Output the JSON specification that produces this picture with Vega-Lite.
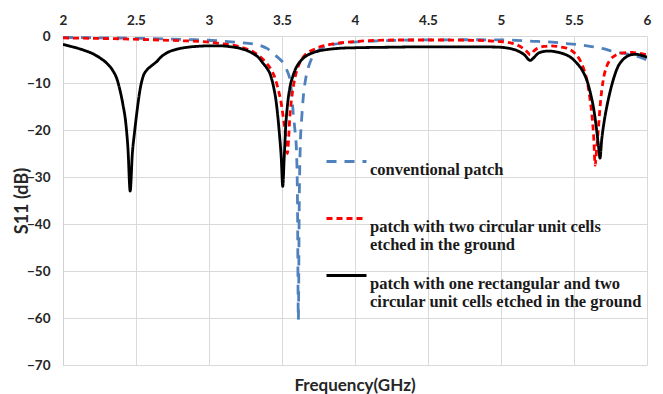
{
  "$schema": "https://vega.github.io/schema/vega-lite/v6.json",
  "width": 584,
  "height": 329,
  "autosize": "none",
  "padding": {"left": 63, "top": 36, "right": 16, "bottom": 29},
  "background": "white",
  "title": {
    "text": "Frequency(GHz)",
    "orient": "bottom",
    "anchor": "middle",
    "font": "Lato",
    "fontSize": 17,
    "fontWeight": "bold",
    "color": "#262626",
    "offset": 6
  },
  "config": {
    "view": {"stroke": null},
    "axis": {
      "labelFont": "Lato",
      "labelFontWeight": "bold",
      "labelFontSize": 13.5,
      "labelColor": "#262626",
      "gridColor": "#d9d9d9",
      "gridWidth": 1,
      "domainColor": "#d0d0d0",
      "ticks": false,
      "titleFont": "Lato",
      "titleFontWeight": "bold",
      "titleFontSize": 18,
      "titleColor": "#262626"
    },
    "legend": {
      "labelFont": "Liberation Serif",
      "labelFontWeight": "bold",
      "labelFontSize": 16.5,
      "labelColor": "#1a1a1a",
      "labelLimit": 400
    }
  },
  "data": {
    "values": [
      {"series": "conventional patch", "f": 2.0, "s11": -0.3},
      {"series": "conventional patch", "f": 2.3, "s11": -0.4},
      {"series": "conventional patch", "f": 2.6, "s11": -0.55},
      {"series": "conventional patch", "f": 2.9, "s11": -0.8},
      {"series": "conventional patch", "f": 3.1, "s11": -1.1},
      {"series": "conventional patch", "f": 3.21, "s11": -1.4},
      {"series": "conventional patch", "f": 3.3, "s11": -1.7},
      {"series": "conventional patch", "f": 3.35, "s11": -2.0},
      {"series": "conventional patch", "f": 3.4, "s11": -2.7},
      {"series": "conventional patch", "f": 3.44, "s11": -3.7},
      {"series": "conventional patch", "f": 3.48, "s11": -4.8},
      {"series": "conventional patch", "f": 3.51, "s11": -5.8},
      {"series": "conventional patch", "f": 3.535, "s11": -7.4},
      {"series": "conventional patch", "f": 3.555, "s11": -9.4},
      {"series": "conventional patch", "f": 3.567, "s11": -12.5},
      {"series": "conventional patch", "f": 3.577, "s11": -16.5},
      {"series": "conventional patch", "f": 3.59, "s11": -20.5},
      {"series": "conventional patch", "f": 3.6, "s11": -25},
      {"series": "conventional patch", "f": 3.606, "s11": -35},
      {"series": "conventional patch", "f": 3.612, "s11": -60.4},
      {"series": "conventional patch", "f": 3.618, "s11": -36},
      {"series": "conventional patch", "f": 3.625, "s11": -23.5},
      {"series": "conventional patch", "f": 3.635, "s11": -17.5},
      {"series": "conventional patch", "f": 3.646, "s11": -12.9},
      {"series": "conventional patch", "f": 3.66, "s11": -9.5},
      {"series": "conventional patch", "f": 3.67, "s11": -7.9},
      {"series": "conventional patch", "f": 3.69, "s11": -5.8},
      {"series": "conventional patch", "f": 3.71, "s11": -4.4},
      {"series": "conventional patch", "f": 3.74, "s11": -3.3},
      {"series": "conventional patch", "f": 3.78, "s11": -2.4},
      {"series": "conventional patch", "f": 3.85, "s11": -1.8},
      {"series": "conventional patch", "f": 3.99, "s11": -1.3},
      {"series": "conventional patch", "f": 4.2, "s11": -1.0},
      {"series": "conventional patch", "f": 4.4, "s11": -0.85},
      {"series": "conventional patch", "f": 4.8, "s11": -0.8},
      {"series": "conventional patch", "f": 5.04, "s11": -0.85},
      {"series": "conventional patch", "f": 5.2, "s11": -1.1},
      {"series": "conventional patch", "f": 5.35, "s11": -1.3},
      {"series": "conventional patch", "f": 5.45, "s11": -1.6},
      {"series": "conventional patch", "f": 5.54, "s11": -1.9},
      {"series": "conventional patch", "f": 5.61, "s11": -2.2},
      {"series": "conventional patch", "f": 5.7, "s11": -2.7},
      {"series": "conventional patch", "f": 5.77, "s11": -3.3},
      {"series": "conventional patch", "f": 5.86, "s11": -3.8},
      {"series": "conventional patch", "f": 5.93, "s11": -4.3},
      {"series": "conventional patch", "f": 6.0, "s11": -5.1},

      {"series": "patch with two circular unit cells etched in the ground", "f": 2.0, "s11": -0.4},
      {"series": "patch with two circular unit cells etched in the ground", "f": 2.2, "s11": -0.5},
      {"series": "patch with two circular unit cells etched in the ground", "f": 2.4, "s11": -0.6},
      {"series": "patch with two circular unit cells etched in the ground", "f": 2.6, "s11": -0.8},
      {"series": "patch with two circular unit cells etched in the ground", "f": 2.8, "s11": -1.0},
      {"series": "patch with two circular unit cells etched in the ground", "f": 3.0, "s11": -1.3},
      {"series": "patch with two circular unit cells etched in the ground", "f": 3.1, "s11": -1.7},
      {"series": "patch with two circular unit cells etched in the ground", "f": 3.2, "s11": -2.2},
      {"series": "patch with two circular unit cells etched in the ground", "f": 3.27, "s11": -2.9},
      {"series": "patch with two circular unit cells etched in the ground", "f": 3.32, "s11": -3.7},
      {"series": "patch with two circular unit cells etched in the ground", "f": 3.36, "s11": -4.7},
      {"series": "patch with two circular unit cells etched in the ground", "f": 3.4, "s11": -6.0},
      {"series": "patch with two circular unit cells etched in the ground", "f": 3.43, "s11": -7.4},
      {"series": "patch with two circular unit cells etched in the ground", "f": 3.455, "s11": -9.2},
      {"series": "patch with two circular unit cells etched in the ground", "f": 3.475, "s11": -11.5},
      {"series": "patch with two circular unit cells etched in the ground", "f": 3.49, "s11": -13.5},
      {"series": "patch with two circular unit cells etched in the ground", "f": 3.505, "s11": -16.5},
      {"series": "patch with two circular unit cells etched in the ground", "f": 3.52, "s11": -20},
      {"series": "patch with two circular unit cells etched in the ground", "f": 3.53, "s11": -23},
      {"series": "patch with two circular unit cells etched in the ground", "f": 3.537, "s11": -25},
      {"series": "patch with two circular unit cells etched in the ground", "f": 3.545, "s11": -22},
      {"series": "patch with two circular unit cells etched in the ground", "f": 3.553, "s11": -17.5},
      {"series": "patch with two circular unit cells etched in the ground", "f": 3.565, "s11": -13.5},
      {"series": "patch with two circular unit cells etched in the ground", "f": 3.58, "s11": -10.3},
      {"series": "patch with two circular unit cells etched in the ground", "f": 3.6, "s11": -7.5},
      {"series": "patch with two circular unit cells etched in the ground", "f": 3.62, "s11": -5.8},
      {"series": "patch with two circular unit cells etched in the ground", "f": 3.65, "s11": -4.3},
      {"series": "patch with two circular unit cells etched in the ground", "f": 3.68, "s11": -3.5},
      {"series": "patch with two circular unit cells etched in the ground", "f": 3.71, "s11": -3.0},
      {"series": "patch with two circular unit cells etched in the ground", "f": 3.76, "s11": -2.3},
      {"series": "patch with two circular unit cells etched in the ground", "f": 3.85, "s11": -1.7},
      {"series": "patch with two circular unit cells etched in the ground", "f": 3.95, "s11": -1.3},
      {"series": "patch with two circular unit cells etched in the ground", "f": 4.1, "s11": -1.0},
      {"series": "patch with two circular unit cells etched in the ground", "f": 4.3, "s11": -0.85},
      {"series": "patch with two circular unit cells etched in the ground", "f": 4.6, "s11": -0.85},
      {"series": "patch with two circular unit cells etched in the ground", "f": 4.9, "s11": -1.0},
      {"series": "patch with two circular unit cells etched in the ground", "f": 5.0, "s11": -1.2},
      {"series": "patch with two circular unit cells etched in the ground", "f": 5.07, "s11": -1.5},
      {"series": "patch with two circular unit cells etched in the ground", "f": 5.11, "s11": -1.9},
      {"series": "patch with two circular unit cells etched in the ground", "f": 5.15, "s11": -2.6},
      {"series": "patch with two circular unit cells etched in the ground", "f": 5.18, "s11": -3.4},
      {"series": "patch with two circular unit cells etched in the ground", "f": 5.2, "s11": -4.0},
      {"series": "patch with two circular unit cells etched in the ground", "f": 5.225, "s11": -3.2},
      {"series": "patch with two circular unit cells etched in the ground", "f": 5.25, "s11": -2.6},
      {"series": "patch with two circular unit cells etched in the ground", "f": 5.3, "s11": -2.2},
      {"series": "patch with two circular unit cells etched in the ground", "f": 5.34, "s11": -2.1},
      {"series": "patch with two circular unit cells etched in the ground", "f": 5.4, "s11": -2.3},
      {"series": "patch with two circular unit cells etched in the ground", "f": 5.45, "s11": -2.6},
      {"series": "patch with two circular unit cells etched in the ground", "f": 5.5, "s11": -3.5},
      {"series": "patch with two circular unit cells etched in the ground", "f": 5.54, "s11": -5.1},
      {"series": "patch with two circular unit cells etched in the ground", "f": 5.57, "s11": -7.3},
      {"series": "patch with two circular unit cells etched in the ground", "f": 5.59, "s11": -9.6},
      {"series": "patch with two circular unit cells etched in the ground", "f": 5.61, "s11": -13.5},
      {"series": "patch with two circular unit cells etched in the ground", "f": 5.625, "s11": -17.5},
      {"series": "patch with two circular unit cells etched in the ground", "f": 5.635, "s11": -21.5},
      {"series": "patch with two circular unit cells etched in the ground", "f": 5.645, "s11": -27.5},
      {"series": "patch with two circular unit cells etched in the ground", "f": 5.655, "s11": -24},
      {"series": "patch with two circular unit cells etched in the ground", "f": 5.665, "s11": -20.5},
      {"series": "patch with two circular unit cells etched in the ground", "f": 5.68, "s11": -14.5},
      {"series": "patch with two circular unit cells etched in the ground", "f": 5.7, "s11": -9.4},
      {"series": "patch with two circular unit cells etched in the ground", "f": 5.72, "s11": -6.8},
      {"series": "patch with two circular unit cells etched in the ground", "f": 5.75, "s11": -5.0},
      {"series": "patch with two circular unit cells etched in the ground", "f": 5.79, "s11": -4.0},
      {"series": "patch with two circular unit cells etched in the ground", "f": 5.84, "s11": -3.6},
      {"series": "patch with two circular unit cells etched in the ground", "f": 5.9, "s11": -3.5},
      {"series": "patch with two circular unit cells etched in the ground", "f": 5.95, "s11": -3.7},
      {"series": "patch with two circular unit cells etched in the ground", "f": 6.0, "s11": -4.0},

      {"series": "patch with one rectangular and two circular unit cells etched in the ground", "f": 2.0, "s11": -1.8},
      {"series": "patch with one rectangular and two circular unit cells etched in the ground", "f": 2.05, "s11": -2.2},
      {"series": "patch with one rectangular and two circular unit cells etched in the ground", "f": 2.1, "s11": -2.6},
      {"series": "patch with one rectangular and two circular unit cells etched in the ground", "f": 2.15, "s11": -3.1},
      {"series": "patch with one rectangular and two circular unit cells etched in the ground", "f": 2.2, "s11": -3.7},
      {"series": "patch with one rectangular and two circular unit cells etched in the ground", "f": 2.25, "s11": -4.6},
      {"series": "patch with one rectangular and two circular unit cells etched in the ground", "f": 2.3, "s11": -5.8},
      {"series": "patch with one rectangular and two circular unit cells etched in the ground", "f": 2.34, "s11": -7.3},
      {"series": "patch with one rectangular and two circular unit cells etched in the ground", "f": 2.37, "s11": -9.2},
      {"series": "patch with one rectangular and two circular unit cells etched in the ground", "f": 2.39, "s11": -11.5},
      {"series": "patch with one rectangular and two circular unit cells etched in the ground", "f": 2.41, "s11": -14.5},
      {"series": "patch with one rectangular and two circular unit cells etched in the ground", "f": 2.43, "s11": -18.5},
      {"series": "patch with one rectangular and two circular unit cells etched in the ground", "f": 2.445, "s11": -24},
      {"series": "patch with one rectangular and two circular unit cells etched in the ground", "f": 2.46, "s11": -33},
      {"series": "patch with one rectangular and two circular unit cells etched in the ground", "f": 2.475, "s11": -25},
      {"series": "patch with one rectangular and two circular unit cells etched in the ground", "f": 2.49, "s11": -20.5},
      {"series": "patch with one rectangular and two circular unit cells etched in the ground", "f": 2.505, "s11": -16.5},
      {"series": "patch with one rectangular and two circular unit cells etched in the ground", "f": 2.53, "s11": -11},
      {"series": "patch with one rectangular and two circular unit cells etched in the ground", "f": 2.55, "s11": -8.5},
      {"series": "patch with one rectangular and two circular unit cells etched in the ground", "f": 2.575, "s11": -7.2},
      {"series": "patch with one rectangular and two circular unit cells etched in the ground", "f": 2.6, "s11": -6.5},
      {"series": "patch with one rectangular and two circular unit cells etched in the ground", "f": 2.62, "s11": -6.0},
      {"series": "patch with one rectangular and two circular unit cells etched in the ground", "f": 2.64, "s11": -5.5},
      {"series": "patch with one rectangular and two circular unit cells etched in the ground", "f": 2.67, "s11": -4.5},
      {"series": "patch with one rectangular and two circular unit cells etched in the ground", "f": 2.7, "s11": -3.8},
      {"series": "patch with one rectangular and two circular unit cells etched in the ground", "f": 2.73, "s11": -3.3},
      {"series": "patch with one rectangular and two circular unit cells etched in the ground", "f": 2.78, "s11": -2.8},
      {"series": "patch with one rectangular and two circular unit cells etched in the ground", "f": 2.85, "s11": -2.4},
      {"series": "patch with one rectangular and two circular unit cells etched in the ground", "f": 2.92, "s11": -2.2},
      {"series": "patch with one rectangular and two circular unit cells etched in the ground", "f": 3.0, "s11": -2.1},
      {"series": "patch with one rectangular and two circular unit cells etched in the ground", "f": 3.08, "s11": -2.1},
      {"series": "patch with one rectangular and two circular unit cells etched in the ground", "f": 3.15, "s11": -2.3},
      {"series": "patch with one rectangular and two circular unit cells etched in the ground", "f": 3.21, "s11": -2.6},
      {"series": "patch with one rectangular and two circular unit cells etched in the ground", "f": 3.26, "s11": -3.1},
      {"series": "patch with one rectangular and two circular unit cells etched in the ground", "f": 3.3, "s11": -3.7},
      {"series": "patch with one rectangular and two circular unit cells etched in the ground", "f": 3.34, "s11": -4.6},
      {"series": "patch with one rectangular and two circular unit cells etched in the ground", "f": 3.37, "s11": -5.8},
      {"series": "patch with one rectangular and two circular unit cells etched in the ground", "f": 3.4, "s11": -7.0},
      {"series": "patch with one rectangular and two circular unit cells etched in the ground", "f": 3.42, "s11": -8.2},
      {"series": "patch with one rectangular and two circular unit cells etched in the ground", "f": 3.44, "s11": -10.5},
      {"series": "patch with one rectangular and two circular unit cells etched in the ground", "f": 3.46, "s11": -14},
      {"series": "patch with one rectangular and two circular unit cells etched in the ground", "f": 3.48, "s11": -20},
      {"series": "patch with one rectangular and two circular unit cells etched in the ground", "f": 3.495, "s11": -26},
      {"series": "patch with one rectangular and two circular unit cells etched in the ground", "f": 3.505, "s11": -32},
      {"series": "patch with one rectangular and two circular unit cells etched in the ground", "f": 3.515, "s11": -26},
      {"series": "patch with one rectangular and two circular unit cells etched in the ground", "f": 3.525, "s11": -19.5},
      {"series": "patch with one rectangular and two circular unit cells etched in the ground", "f": 3.54, "s11": -14},
      {"series": "patch with one rectangular and two circular unit cells etched in the ground", "f": 3.555, "s11": -10.8},
      {"series": "patch with one rectangular and two circular unit cells etched in the ground", "f": 3.575, "s11": -8.5},
      {"series": "patch with one rectangular and two circular unit cells etched in the ground", "f": 3.59, "s11": -7.2},
      {"series": "patch with one rectangular and two circular unit cells etched in the ground", "f": 3.62, "s11": -5.6},
      {"series": "patch with one rectangular and two circular unit cells etched in the ground", "f": 3.65, "s11": -4.6},
      {"series": "patch with one rectangular and two circular unit cells etched in the ground", "f": 3.7, "s11": -3.7},
      {"series": "patch with one rectangular and two circular unit cells etched in the ground", "f": 3.75, "s11": -3.2},
      {"series": "patch with one rectangular and two circular unit cells etched in the ground", "f": 3.83, "s11": -2.8},
      {"series": "patch with one rectangular and two circular unit cells etched in the ground", "f": 3.9, "s11": -2.6},
      {"series": "patch with one rectangular and two circular unit cells etched in the ground", "f": 4.0, "s11": -2.5},
      {"series": "patch with one rectangular and two circular unit cells etched in the ground", "f": 4.2, "s11": -2.4},
      {"series": "patch with one rectangular and two circular unit cells etched in the ground", "f": 4.5, "s11": -2.3},
      {"series": "patch with one rectangular and two circular unit cells etched in the ground", "f": 4.8, "s11": -2.3},
      {"series": "patch with one rectangular and two circular unit cells etched in the ground", "f": 4.97, "s11": -2.35},
      {"series": "patch with one rectangular and two circular unit cells etched in the ground", "f": 5.05, "s11": -2.6},
      {"series": "patch with one rectangular and two circular unit cells etched in the ground", "f": 5.11, "s11": -3.1},
      {"series": "patch with one rectangular and two circular unit cells etched in the ground", "f": 5.16, "s11": -4.0},
      {"series": "patch with one rectangular and two circular unit cells etched in the ground", "f": 5.2, "s11": -5.2},
      {"series": "patch with one rectangular and two circular unit cells etched in the ground", "f": 5.225, "s11": -4.6},
      {"series": "patch with one rectangular and two circular unit cells etched in the ground", "f": 5.25, "s11": -3.8},
      {"series": "patch with one rectangular and two circular unit cells etched in the ground", "f": 5.29, "s11": -3.3},
      {"series": "patch with one rectangular and two circular unit cells etched in the ground", "f": 5.33, "s11": -3.2},
      {"series": "patch with one rectangular and two circular unit cells etched in the ground", "f": 5.38, "s11": -3.4},
      {"series": "patch with one rectangular and two circular unit cells etched in the ground", "f": 5.43, "s11": -3.8},
      {"series": "patch with one rectangular and two circular unit cells etched in the ground", "f": 5.48, "s11": -4.6},
      {"series": "patch with one rectangular and two circular unit cells etched in the ground", "f": 5.52, "s11": -5.8},
      {"series": "patch with one rectangular and two circular unit cells etched in the ground", "f": 5.56, "s11": -7.5},
      {"series": "patch with one rectangular and two circular unit cells etched in the ground", "f": 5.59, "s11": -9.6},
      {"series": "patch with one rectangular and two circular unit cells etched in the ground", "f": 5.615, "s11": -12.5},
      {"series": "patch with one rectangular and two circular unit cells etched in the ground", "f": 5.635, "s11": -15.5},
      {"series": "patch with one rectangular and two circular unit cells etched in the ground", "f": 5.655, "s11": -20},
      {"series": "patch with one rectangular and two circular unit cells etched in the ground", "f": 5.67, "s11": -24},
      {"series": "patch with one rectangular and two circular unit cells etched in the ground", "f": 5.678, "s11": -26},
      {"series": "patch with one rectangular and two circular unit cells etched in the ground", "f": 5.69, "s11": -22},
      {"series": "patch with one rectangular and two circular unit cells etched in the ground", "f": 5.705, "s11": -18.5},
      {"series": "patch with one rectangular and two circular unit cells etched in the ground", "f": 5.725, "s11": -15},
      {"series": "patch with one rectangular and two circular unit cells etched in the ground", "f": 5.75, "s11": -11.5},
      {"series": "patch with one rectangular and two circular unit cells etched in the ground", "f": 5.77, "s11": -9.2},
      {"series": "patch with one rectangular and two circular unit cells etched in the ground", "f": 5.8, "s11": -6.6},
      {"series": "patch with one rectangular and two circular unit cells etched in the ground", "f": 5.83, "s11": -5.2},
      {"series": "patch with one rectangular and two circular unit cells etched in the ground", "f": 5.86, "s11": -4.4},
      {"series": "patch with one rectangular and two circular unit cells etched in the ground", "f": 5.89, "s11": -4.0},
      {"series": "patch with one rectangular and two circular unit cells etched in the ground", "f": 5.93, "s11": -3.9},
      {"series": "patch with one rectangular and two circular unit cells etched in the ground", "f": 5.97, "s11": -4.2},
      {"series": "patch with one rectangular and two circular unit cells etched in the ground", "f": 6.0, "s11": -4.5}
    ]
  },
  "mark": {"type": "line", "interpolate": "monotone", "strokeWidth": 2.8, "clip": true},
  "encoding": {
    "x": {
      "field": "f",
      "type": "quantitative",
      "scale": {"domain": [2, 6], "nice": false, "zero": false},
      "axis": {
        "orient": "top",
        "values": [2, 2.5, 3, 3.5, 4, 4.5, 5, 5.5, 6],
        "format": "~g",
        "labelPadding": 9,
        "labelFlush": false,
        "title": null,
        "domain": false
      }
    },
    "y": {
      "field": "s11",
      "type": "quantitative",
      "scale": {"domain": [-70, 0], "nice": false},
      "axis": {
        "values": [0, -10, -20, -30, -40, -50, -60, -70],
        "labelPadding": 13,
        "title": "S11 (dB)",
        "titlePadding": -5
      }
    },
    "color": {
      "field": "series",
      "type": "nominal",
      "scale": {
        "domain": [
          "conventional patch",
          "patch with two circular unit cells etched in the ground",
          "patch with one rectangular and two circular unit cells etched in the ground"
        ],
        "range": ["#4f81bd", "#ff0000", "#000000"]
      },
      "legend": {
        "orient": "none",
        "legendX": 262,
        "legendY": 104,
        "title": null,
        "symbolType": "stroke",
        "symbolSize": 1600,
        "symbolStrokeWidth": 2.8,
        "labelOffset": 2,
        "labelBaseline": "top",
        "gridAlign": "all",
        "rowPadding": 0,
        "padding": 0,
        "labelExpr": "datum.label == 'conventional patch' ? [datum.label, ''] : indexof(datum.label, 'rectangular') >= 0 ? split(replace(datum.label, 'and two ', 'and two|'), '|') : split(replace(datum.label, 'cells ', 'cells|'), '|')"
      }
    },
    "strokeDash": {
      "field": "series",
      "type": "nominal",
      "scale": {
        "domain": [
          "conventional patch",
          "patch with two circular unit cells etched in the ground",
          "patch with one rectangular and two circular unit cells etched in the ground"
        ],
        "range": [[10, 8], [6, 4], [1, 0]]
      },
      "legend": null
    }
  }
}
